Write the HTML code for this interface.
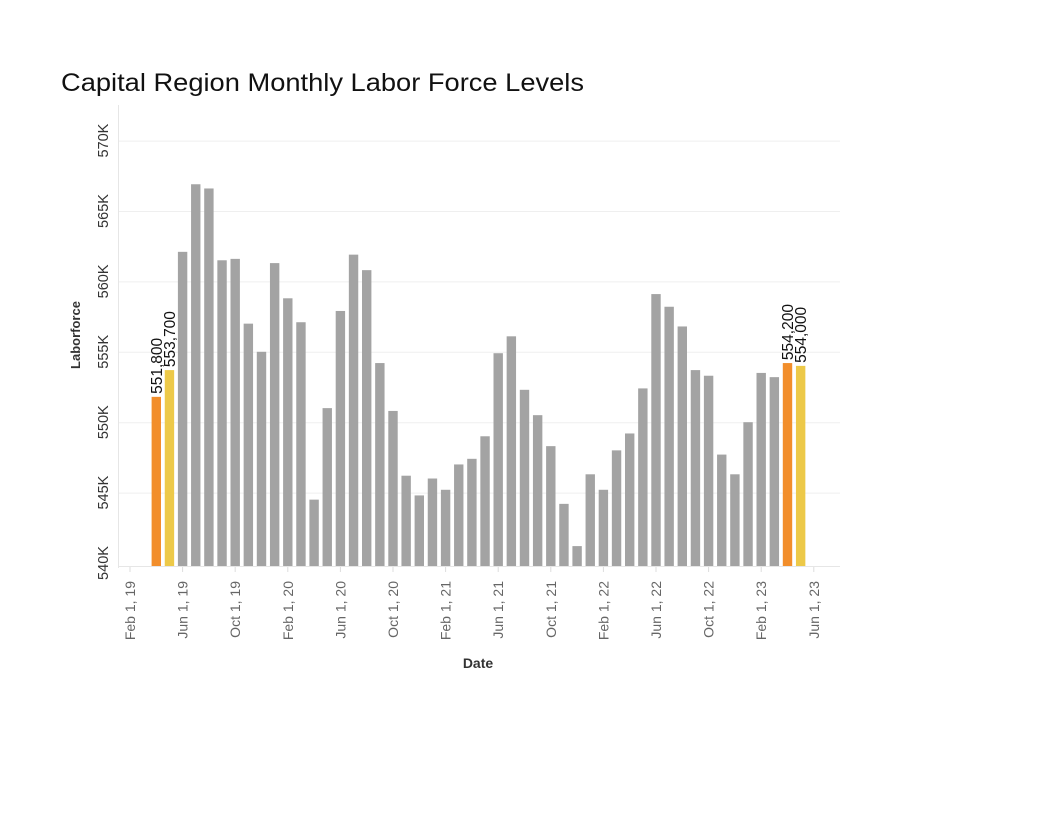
<!DOCTYPE html>
<html><head><meta charset="utf-8"><style>
html,body{margin:0;padding:0;background:#fff;}
svg{display:block;}
text{font-family:"Liberation Sans",sans-serif;}
</style></head><body>
<svg width="1056" height="816" viewBox="0 0 1056 816" xmlns="http://www.w3.org/2000/svg">
<text x="61" y="91" font-size="25" fill="#111" textLength="523" lengthAdjust="spacingAndGlyphs">Capital Region Monthly Labor Force Levels</text>
<g id="grid" stroke="#efefef" stroke-width="1"></g>
<line x1="118.5" y1="105" x2="118.5" y2="568" stroke="#e6e6e6"/>
<line x1="118" y1="566.5" x2="840" y2="566.5" stroke="#e6e6e6"/>
<g id="bars"></g>
<g id="labels"></g>
<text transform="translate(80,335) rotate(-90)" text-anchor="middle" font-size="13" font-weight="bold" fill="#333">Laborforce</text>
<text x="478" y="668" text-anchor="middle" font-size="14" font-weight="bold" fill="#333">Date</text>
</svg>
<script>
var NS="http://www.w3.org/2000/svg";
function el(t,a,p,txt){var e=document.createElementNS(NS,t);for(var k in a)e.setAttribute(k,a[k]);if(txt!==undefined)e.textContent=txt;document.getElementById(p).appendChild(e);return e;}
function y(v){return 563-(v-540)*14.08;}
for(var v=540;v<=570;v+=5){
  if(v>540) el('line',{x1:118,x2:840,y1:y(v)+0.5,y2:y(v)+0.5},'grid');
  el('text',{transform:'translate(108,'+y(v)+') rotate(-90)','text-anchor':'middle','font-size':'14.5',fill:'#333'},'labels',v+'K');
}
var vals=[551.8,553.7,562.1,566.9,566.6,561.5,561.6,557.0,555.0,561.3,558.8,557.1,544.5,551.0,557.9,561.9,560.8,554.2,550.8,546.2,544.8,546.0,545.2,547.0,547.4,549.0,554.9,556.1,552.3,550.5,548.3,544.2,541.2,546.3,545.2,548.0,549.2,552.4,559.1,558.2,556.8,553.7,553.3,547.7,546.3,550.0,553.5,553.2,554.2,554.0];
var step=13.15,x0=130;
vals.forEach(function(v,i){
  var cx=x0+(i+2)*step;
  var c='#a3a3a3'; if(i==0||i==48)c='#f28e2b'; if(i==1||i==49)c='#edc948';
  var t=y(v);
  el('rect',{x:cx-4.7,y:t,width:9.4,height:566-t,fill:c},'bars');
  if(i<2||i>47){
    el('text',{transform:'translate('+(cx+5.5)+','+(t-3)+') rotate(-90)','font-size':'15.5',fill:'#111'},'labels',(v*1000).toLocaleString('en-US'));
  }
});
var ticks=['Feb 1, 19','Jun 1, 19','Oct 1, 19','Feb 1, 20','Jun 1, 20','Oct 1, 20','Feb 1, 21','Jun 1, 21','Oct 1, 21','Feb 1, 22','Jun 1, 22','Oct 1, 22','Feb 1, 23','Jun 1, 23'];
ticks.forEach(function(s,i){
  var cx=x0+i*4*step;
  el('line',{x1:cx,x2:cx,y1:567,y2:572,stroke:'#ddd'},'grid');
  el('text',{transform:'translate('+(cx+5)+',581) rotate(-90)','text-anchor':'end','font-size':'14',fill:'#666'},'labels',s);
});
</script>
</body></html>
